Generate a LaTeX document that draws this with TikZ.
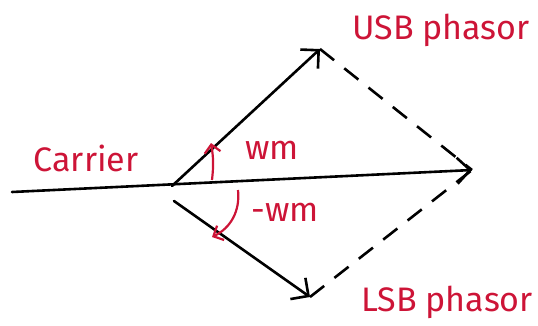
\documentclass[tikz,border=0pt]{standalone}
\usepackage{fontspec}
\setmainfont{Fira Sans}
\usetikzlibrary{arrows.meta}
\definecolor{inkred}{RGB}{205,20,55}
\tikzset{
  vec/.style={line width=2.6pt, line cap=round, -{Straight Barb[length=13pt,width=26pt,line width=2.6pt]}},
  dashvec/.style={line width=2.6pt, dash pattern=on 18pt off 13pt},
  anglearc/.style={inkred, line width=2.2pt, -{Straight Barb[length=8pt,width=16pt,line width=2.2pt]}},
  lbl/.style={text=inkred, font=\fontsize{34}{40}\selectfont, inner sep=0pt}
}
\begin{document}
\begin{tikzpicture}[x=1pt,y=-1pt]
\useasboundingbox (0,0) rectangle (538,325);
\coordinate (start) at (12,192);
\coordinate (o) at (172,186);
\coordinate (ol) at (174,201);
\coordinate (res) at (472,170);
\coordinate (usb) at (320,49);
\coordinate (lsb) at (310,297);
\draw[vec] (start) -- (res);
\draw[vec] (o) -- (usb);
\draw[vec] (ol) -- (lsb);
\draw[dashvec] (usb) -- (res);
\draw[dashvec] (lsb) -- (res);
\coordinate (a1) at (212,180);
\coordinate (a2) at (211,143);
\draw[anglearc] (a1) to[bend right=8] (a2);
\coordinate (b1) at (238,190);
\coordinate (b2) at (212,237);
\draw[anglearc] (b1) to[bend left=35] (b2);
\node[lbl] (carrier) at (86,158) {Carrier};
\node[lbl] (usbl) at (441,30) {USB phasor};
\node[lbl] (lsbl) at (447,302) {LSB phasor};
\node[lbl] (wm) at (272,150) {wm};
\node[lbl] (mwm) at (285,212) {-wm};
\end{tikzpicture}
\end{document}
